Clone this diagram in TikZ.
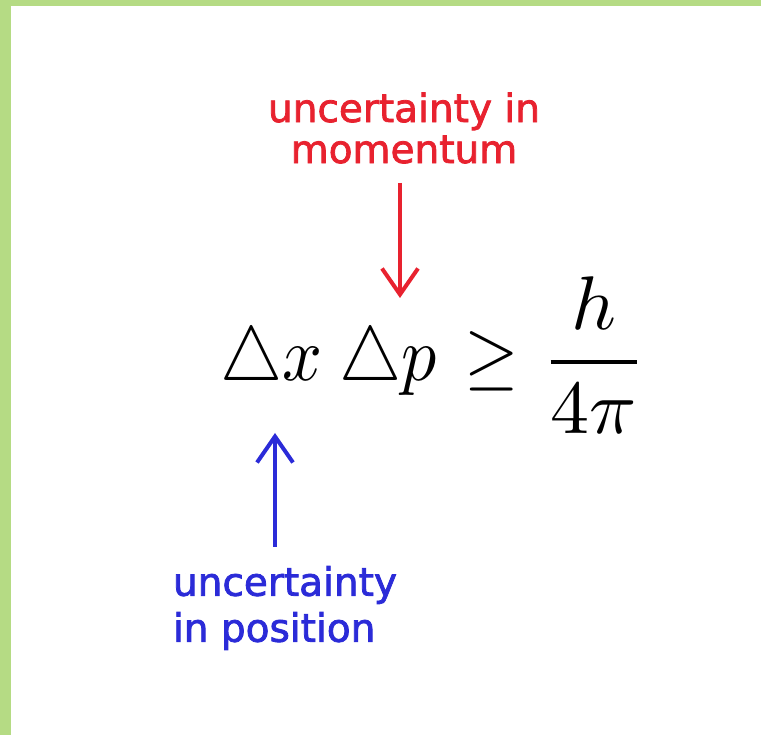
\documentclass[tikz,border=0pt]{standalone}
\usepackage{fontspec}
\newfontfamily\lblfont{DejaVu Sans}[FakeBold=2]
\usepackage{graphicx}
\usetikzlibrary{arrows.meta}
\definecolor{bordergreen}{HTML}{B5DB84}
\definecolor{labelred}{HTML}{E8222F}
\definecolor{labelblue}{HTML}{2B2BD8}
\begin{document}
\begin{tikzpicture}[x=1pt,y=1pt,
  lbl/.style={font=\lblfont\fontsize{39}{41}\selectfont, inner sep=0pt},
  conn/.style={line width=4pt, -{Straight Barb[length=26pt,width=36pt,line width=4pt]}},
  mathpart/.style={inner sep=0pt, anchor=base west}
]
\fill[bordergreen] (0,0) rectangle (761,735);
\fill[white] (11,0) rectangle (761,729);
\useasboundingbox (0,0) rectangle (761,735);
\node[lbl, text=labelred, align=center] (mom) at (404,607) {uncertainty in\\momentum};
\node[lbl, text=labelblue, align=left, font=\lblfont\fontsize{39}{46}\selectfont] (pos) at (285,127) {uncertainty\\in position};
\node[mathpart] (dx) at (220,354) {\scalebox{7}[7.7]{$\triangle x$}};
\node[mathpart] (dp) at (339,354) {\scalebox{7}[7.7]{$\triangle p$}};
\node[mathpart] (geq) at (464,354) {\scalebox{7}[7.7]{$\geq$}};
\node[mathpart] (frac) at (541,354) {\scalebox{7.8}[7.6]{$\displaystyle\frac{h}{4\pi}$}};
\coordinate (rtop) at (400,552);
\coordinate (rtip) at (400,437);
\coordinate (bbot) at (275,188);
\coordinate (btip) at (275,302);
\draw[conn, labelred] (rtop) -- (rtip);
\draw[conn, labelblue] (bbot) -- (btip);
\end{tikzpicture}
\end{document}
